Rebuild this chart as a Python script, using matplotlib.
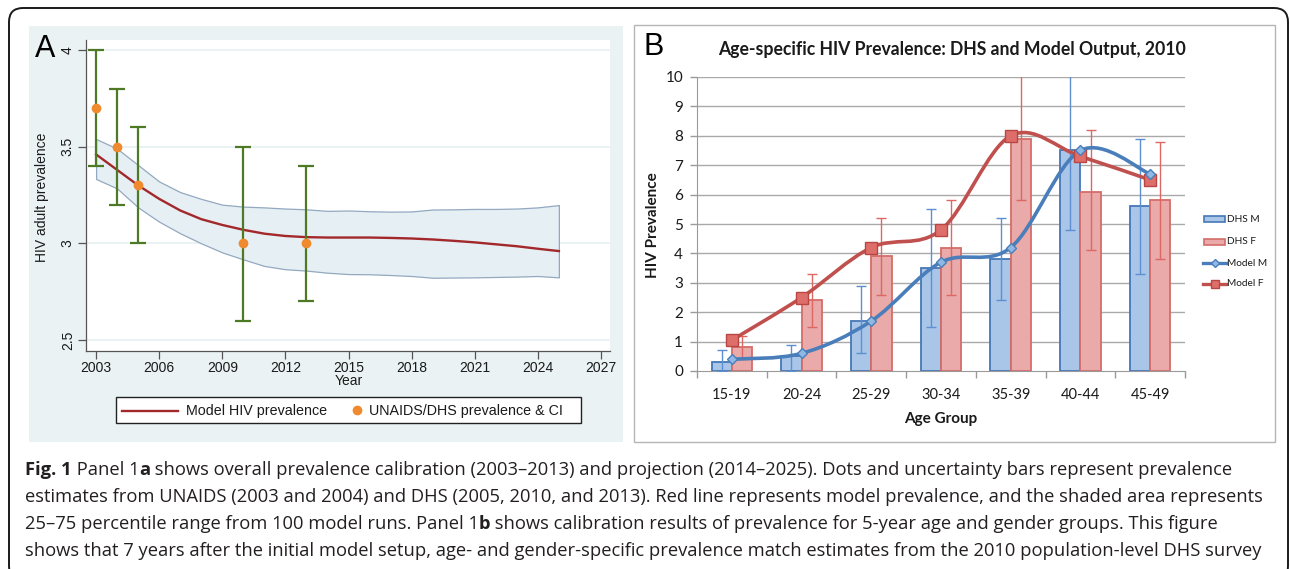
import numpy as np
import matplotlib
matplotlib.use('Agg')
import matplotlib.pyplot as plt
from matplotlib.patches import Rectangle, FancyBboxPatch, PathPatch
from matplotlib.lines import Line2D
from matplotlib.path import Path
from matplotlib.transforms import IdentityTransform

W, H = 1290, 569

# ---- Panel A: overall prevalence (Stata style) ----
years_obs = [2003, 2004, 2005, 2010, 2013]
prev_obs = [3.7, 3.5, 3.3, 3.0, 3.0]
ci_low = [3.4, 3.2, 3.0, 2.6, 2.7]
ci_high = [4.0, 3.8, 3.6, 3.5, 3.4]

model_years = list(range(2003, 2026))
model_prev = [3.46, 3.38, 3.30, 3.23, 3.17, 3.125, 3.095, 3.07, 3.05, 3.038, 3.032, 3.03,
              3.03, 3.03, 3.028, 3.025, 3.02, 3.013, 3.005, 2.995, 2.985, 2.972, 2.96]
band_upper = [3.54, 3.49, 3.405, 3.32, 3.265, 3.23, 3.20, 3.19, 3.186, 3.18, 3.176, 3.168,
              3.17, 3.166, 3.164, 3.165, 3.175, 3.176, 3.178, 3.178, 3.18, 3.186, 3.198]
band_lower = [3.333, 3.284, 3.186, 3.112, 3.052, 3.0, 2.953, 2.917, 2.883, 2.866, 2.859, 2.848,
              2.841, 2.84, 2.836, 2.831, 2.822, 2.823, 2.824, 2.826, 2.828, 2.831, 2.824]
year_ticks = list(range(2003, 2028, 3))
prev_ticks = [2.5, 3, 3.5, 4]
prev_tick_labels = ['2.5', '3', '3.5', '4']

# ---- Panel B: age-specific prevalence (Excel style) ----
age_groups = ['15-19', '20-24', '25-29', '30-34', '35-39', '40-44', '45-49']
dhs_m = [0.3, 0.5, 1.7, 3.5, 3.8, 7.5, 5.6]
dhs_m_lo = [0.0, 0.0, 0.6, 1.5, 2.4, 4.8, 3.3]
dhs_m_hi = [0.7, 0.9, 2.9, 5.5, 5.2, 10.6, 7.9]
dhs_f = [0.8, 2.4, 3.9, 4.2, 7.9, 6.1, 5.8]
dhs_f_lo = [0.4, 1.5, 2.6, 2.6, 5.8, 4.1, 3.8]
dhs_f_hi = [1.2, 3.3, 5.2, 5.8, 10.6, 8.2, 7.8]
model_m = [0.4, 0.6, 1.7, 3.7, 4.2, 7.5, 6.7]
model_f = [1.05, 2.5, 4.2, 4.8, 8.0, 7.3, 6.5]

caption_lines = [
    [('Fig. 1', 'bold'), (' Panel 1', 'normal'), ('a', 'bold'),
     (' shows overall prevalence calibration (2003\u20132013) and projection (2014\u20132025). '
      'Dots and uncertainty bars represent prevalence', 'normal')],
    [('estimates from UNAIDS (2003 and 2004) and DHS (2005, 2010, and 2013). Red line represents '
      'model prevalence, and the shaded area represents', 'normal')],
    [('25\u201375 percentile range from 100 model runs. Panel 1', 'normal'), ('b', 'bold'),
     (' shows calibration results of prevalence for 5-year age and gender groups. This figure', 'normal')],
    [('shows that 7 years after the initial model setup, age- and gender-specific prevalence match '
      'estimates from the 2010 population-level DHS survey', 'normal')],
]

PX = IdentityTransform()


def box(x0, y0, x1, y1):
    # pixel box (top-left origin) -> figure fraction rect
    return [x0 / W, 1 - y1 / H, (x1 - x0) / W, (y1 - y0) / H]


def ptxt(x, y, s, **kw):
    return fig.text(x, H - y, s, transform=PX, **kw)


def excel_smooth(xs, ys):
    pts = np.column_stack([xs, ys]).astype(float)
    n = len(pts)
    verts = [pts[0]]
    codes = [Path.MOVETO]
    for i in range(n - 1):
        p0 = pts[max(i - 1, 0)]
        p1 = pts[i]
        p2 = pts[i + 1]
        p3 = pts[min(i + 2, n - 1)]
        verts += [p1 + (p2 - p0) / 6, p2 - (p3 - p1) / 6, p2]
        codes += [Path.CURVE4] * 3
    return Path(verts, codes)


fig = plt.figure(figsize=(W / 100, H / 100), dpi=100)
fig.patch.set_facecolor('white')

# outer frame and panel backgrounds (behind the axes)
fig.add_artist(FancyBboxPatch((9, H - 580), 1279, 572, boxstyle='round,pad=0,rounding_size=14',
                              transform=PX, facecolor='none', edgecolor='#1a1a1a', lw=1.4,
                              zorder=-5))
fig.add_artist(Rectangle((29, H - 442), 594, 416, transform=PX, facecolor='#eaf2f3',
                         edgecolor='none', zorder=-5))
fig.add_artist(Rectangle((634, H - 442), 641, 417, transform=PX, facecolor='white',
                         edgecolor='#b5b5b5', lw=1, zorder=-5))

# ================= Panel A =================
axA = fig.add_axes(box(86, 40, 610, 351))
axA.set_facecolor('white')
axA.fill_between(model_years, band_lower, band_upper, facecolor='#e6eff3',
                 edgecolor='#93a9c0', lw=0.9, zorder=2)
axA.plot(model_years, model_prev, color='#a3282c', lw=1.7, zorder=3)
axA.errorbar(years_obs, prev_obs,
             yerr=[np.array(prev_obs) - np.array(ci_low), np.array(ci_high) - np.array(prev_obs)],
             fmt='none', ecolor='#4e7a25', elinewidth=1.6, capsize=5.5, capthick=1.6, zorder=4)
axA.plot(years_obs, prev_obs, 'o', color='#f08a2e', markersize=6, zorder=5)
axA.set_xlim(2002.52, 2027.43)
axA.set_ylim(2.443, 4.052)
axA.set_xticks(year_ticks)
axA.set_yticks(prev_ticks)
axA.set_yticklabels(prev_tick_labels, rotation=90, va='center')
for y in prev_ticks:
    axA.axhline(y, color='#eaf2f3', lw=1.4, zorder=1)
for s in ['top', 'right']:
    axA.spines[s].set_visible(False)
for s in ['left', 'bottom']:
    axA.spines[s].set_color('#555555')
    axA.spines[s].set_linewidth(0.9)
axA.tick_params(length=6, width=0.9, color='#555555', labelsize=10, labelcolor='#1a1a1a')
axA.tick_params(axis='x', pad=1.5)
axA.tick_params(axis='y', pad=2)
for lab in axA.get_xticklabels() + axA.get_yticklabels():
    lab.set_family('Liberation Sans')

ptxt(349, 381, 'Year', ha='center', va='center', fontsize=10, family='Liberation Sans', color='#1a1a1a')
ptxt(42, 197, 'HIV adult prevalence', ha='center', va='center', rotation=90, fontsize=10,
     family='Liberation Sans', color='#1a1a1a')
ptxt(35, 57, 'A', ha='left', va='baseline', fontsize=22, family='Liberation Sans')

# legend A
fig.add_artist(Rectangle((116, H - 423), 465, 26, transform=PX, facecolor='white',
                         edgecolor='#222222', lw=1))
fig.add_artist(Line2D([122, 178], [H - 411, H - 411], transform=PX, color='#a3282c', lw=1.7))
ptxt(186, 411, 'Model HIV prevalence', ha='left', va='center', fontsize=10.3,
     family='Liberation Sans', color='#1a1a1a')
fig.add_artist(Line2D([357], [H - 410], transform=PX, marker='o', color='#f08a2e',
                      markersize=6, lw=0))
ptxt(369, 411, 'UNAIDS/DHS prevalence & CI', ha='left', va='center', fontsize=10.3,
     family='Liberation Sans', color='#1a1a1a')

# ================= Panel B =================
blue_edge, blue_fill = '#4677b8', '#a9c6e9'
red_edge, red_fill = '#d46d69', '#e9aaa9'
axB = fig.add_axes(box(697, 77, 1185, 371))
axB.set_facecolor('none')
x = np.arange(1, len(age_groups) + 1)
bw = 0.29
axB.bar(x - bw / 2, dhs_m, bw, color=blue_fill, edgecolor=blue_edge, lw=1.3, zorder=2)
axB.bar(x + bw / 2, dhs_f, bw, color=red_fill, edgecolor=red_edge, lw=1.3, zorder=2)
axB.errorbar(x - bw / 2, dhs_m,
             yerr=[np.array(dhs_m) - np.array(dhs_m_lo), np.array(dhs_m_hi) - np.array(dhs_m)],
             fmt='none', ecolor='#5d8fd0', elinewidth=1, capsize=3.5, capthick=1, zorder=3)
axB.errorbar(x + bw / 2, dhs_f,
             yerr=[np.array(dhs_f) - np.array(dhs_f_lo), np.array(dhs_f_hi) - np.array(dhs_f)],
             fmt='none', ecolor='#dc6763', elinewidth=1, capsize=3.5, capthick=1, zorder=3)
axB.add_patch(PathPatch(excel_smooth(x, model_f), facecolor='none', edgecolor='#c0504d',
                        lw=2.6, zorder=4, capstyle='round'))
axB.add_patch(PathPatch(excel_smooth(x, model_m), facecolor='none', edgecolor='#4a7ebb',
                        lw=2.6, zorder=5, capstyle='round'))
axB.plot(x, model_f, 's', markersize=8, markerfacecolor='#de6e6a', markeredgecolor='#b94643',
         markeredgewidth=1, zorder=6)
axB.plot(x, model_m, 'D', markersize=5.5, markerfacecolor='#8fb8e3', markeredgecolor='#4a7ebb',
         markeredgewidth=1, zorder=7)
axB.set_xlim(0.5, len(age_groups) + 0.5)
axB.set_ylim(0, 10)
axB.set_yticks(range(0, 11))
for v in range(1, 11):
    axB.axhline(v, color='#a9a9a9', lw=1, zorder=1)
axB.set_xticks(np.arange(0.5, len(age_groups) + 1, 1))
axB.set_xticklabels([])
axB.set_xticks(x, minor=True)
axB.set_xticklabels(age_groups, minor=True)
axB.tick_params(axis='x', which='major', length=5, color='#9a9a9a', width=1)
axB.tick_params(axis='x', which='minor', length=0, pad=12, labelsize=10.5)
axB.tick_params(axis='y', length=5, color='#9a9a9a', width=1, labelsize=11, pad=5)
for s in ['top', 'right']:
    axB.spines[s].set_visible(False)
for s in ['left', 'bottom']:
    axB.spines[s].set_color('#9a9a9a')
for lab in axB.get_xticklabels(minor=True) + axB.get_yticklabels():
    lab.set_family('Lato')
    lab.set_color('#1a1a1a')

ptxt(952, 50, 'Age-specific HIV Prevalence: DHS and Model Output, 2010', ha='center',
     va='center', fontsize=12.7, fontweight='bold', family='Lato', color='#1a1a1a')
ptxt(653, 225, 'HIV Prevalence', ha='center', va='center', rotation=90, fontsize=11,
     fontweight='bold', family='Lato', color='#1a1a1a')
ptxt(941, 419, 'Age Group', ha='center', va='center', fontsize=11, fontweight='bold',
     family='Lato', color='#1a1a1a')
ptxt(643, 55, 'B', ha='left', va='baseline', fontsize=22, family='Liberation Sans')

# legend B
leg_y = [219, 242, 263, 284]
fig.add_artist(Rectangle((1204, H - leg_y[0] - 3), 21, 6, transform=PX, facecolor=blue_fill,
                         edgecolor=blue_edge, lw=1.2))
fig.add_artist(Rectangle((1204, H - leg_y[1] - 3), 21, 6, transform=PX, facecolor=red_fill,
                         edgecolor=red_edge, lw=1.2))
fig.add_artist(Line2D([1203, 1226], [H - leg_y[2]] * 2, transform=PX, color='#4a7ebb', lw=2.4))
fig.add_artist(Line2D([1214.5], [H - leg_y[2]], transform=PX, marker='D', markersize=4.5,
                      markerfacecolor='#8fb8e3', markeredgecolor='#4a7ebb', lw=0))
fig.add_artist(Line2D([1203, 1226], [H - leg_y[3]] * 2, transform=PX, color='#c0504d', lw=2.4))
fig.add_artist(Line2D([1214.5], [H - leg_y[3]], transform=PX, marker='s', markersize=5.5,
                      markerfacecolor='#de6e6a', markeredgecolor='#b94643', lw=0))
for yy, name in zip(leg_y, ['DHS M', 'DHS F', 'Model M', 'Model F']):
    ptxt(1227, yy, name, ha='left', va='center', fontsize=7.3, family='Lato', color='#1a1a1a')

# ================= caption =================
renderer = fig.canvas.get_renderer()
baselines = [475, 502, 529, 556]
for runs, base in zip(caption_lines, baselines):
    xx = 25
    for txt, wt in runs:
        t = ptxt(xx, base, txt, ha='left', va='baseline', fontsize=13.2, fontweight=wt,
                 family='Open Sans', color='#231f20')
        xx += t.get_window_extent(renderer).width

fig.savefig('out.png', dpi=100)
